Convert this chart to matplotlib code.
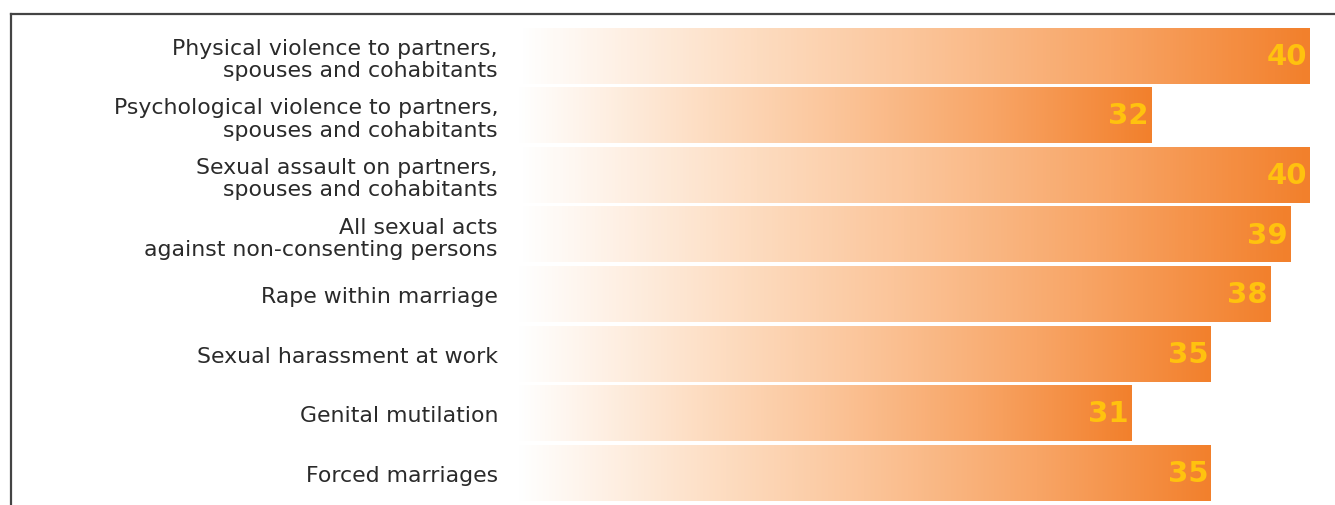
import matplotlib
matplotlib.use("Agg")
import matplotlib.pyplot as plt
import numpy as np
from matplotlib.colors import LinearSegmentedColormap
from matplotlib.lines import Line2D

categories = [
    "Physical violence to partners,\nspouses and cohabitants",
    "Psychological violence to partners,\nspouses and cohabitants",
    "Sexual assault on partners,\nspouses and cohabitants",
    "All sexual acts\nagainst non-consenting persons",
    "Rape within marriage",
    "Sexual harassment at work",
    "Genital mutilation",
    "Forced marriages",
]
values = [40, 32, 40, 39, 38, 35, 31, 35]

grad = LinearSegmentedColormap.from_list(
    "bar_grad",
    [(0.0, "#ffffff"), (0.3, "#fddcc0"), (0.5, "#fbc59a"),
     (0.75, "#f8a566"), (1.0, "#f2802c")])

W, H = 1335, 506
fig = plt.figure(figsize=(W / 100, H / 100), dpi=100)
ax = fig.add_axes([518 / W, 0, 1 - 518 / W, 1])

pitch = 59.6
y = np.arange(len(values))
bars = ax.barh(y, values, height=55.5 / pitch, color="none", edgecolor="none")

ramp = np.linspace(0, 1, 256).reshape(1, -1)
for rect, v in zip(bars, values):
    x0, y0 = rect.get_x(), rect.get_y()
    w, h = rect.get_width(), rect.get_height()
    ax.imshow(ramp, cmap=grad, aspect="auto", interpolation="bilinear",
              extent=(x0, x0 + w, y0 + h, y0), zorder=1)
    ax.text(x0 + w - 0.15, y0 + h / 2, str(v), ha="right", va="center",
            fontsize=21, fontweight="bold", color="#ffc20e",
            family="DejaVu Sans", zorder=3)

ax.set_xlim(0, (W - 518) / 19.8)
ax.set_ylim((H - 56.75) / pitch, -56.75 / pitch)
ax.set_yticks(y)
ax.set_yticklabels(categories, fontsize=15.8, family="DejaVu Sans",
                   color="#2a2a2a", linespacing=1.15)
ax.tick_params(axis="y", length=0, pad=14.4)
ax.set_xticks([])
for s in ax.spines.values():
    s.set_visible(False)

# frame: top and left rules
fig.add_artist(Line2D([11 / W, 1], [1 - 15 / H, 1 - 15 / H], color="#444444", lw=1.6))
fig.add_artist(Line2D([11 / W, 11 / W], [0, 1 - 15 / H], color="#444444", lw=1.6))

fig.savefig("out.png", dpi=100)
